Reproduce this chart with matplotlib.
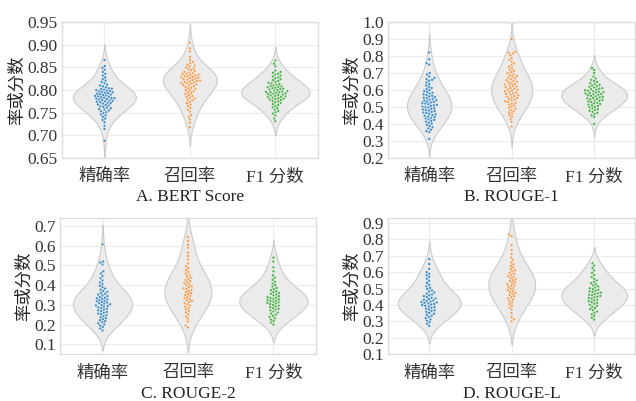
import numpy as np
import pandas as pd
import matplotlib
matplotlib.use("Agg")
import matplotlib.pyplot as plt
import seaborn as sns

sns.set_theme(style="whitegrid")
plt.rcParams['font.family'] = ['Liberation Serif', 'Noto Sans CJK SC']
plt.rcParams['axes.unicode_minus'] = False

categories = ["精确率", "召回率", "F1 分数"]
panel_titles = ["A. BERT Score", "B. ROUGE-1", "C. ROUGE-2", "D. ROUGE-L"]

bert_prec = [0.688, 0.714, 0.721, 0.729, 0.734, 0.737, 0.741, 0.744, 0.746, 0.749, 0.751, 0.753, 0.755, 0.757,
             0.758, 0.760, 0.761, 0.763, 0.764, 0.766, 0.767, 0.768, 0.770, 0.771, 0.772, 0.773, 0.774, 0.775,
             0.776, 0.777, 0.778, 0.779, 0.780, 0.781, 0.782, 0.782, 0.783, 0.784, 0.785, 0.786, 0.787, 0.788,
             0.789, 0.790, 0.791, 0.792, 0.793, 0.794, 0.795, 0.796, 0.797, 0.798, 0.799, 0.800, 0.801, 0.802,
             0.803, 0.804, 0.806, 0.808, 0.810, 0.812, 0.815, 0.818, 0.821, 0.824, 0.828, 0.832, 0.836, 0.840,
             0.845, 0.849, 0.853, 0.866]
bert_rec = [0.718, 0.728, 0.735, 0.741, 0.745, 0.752, 0.757, 0.761, 0.765, 0.768, 0.771, 0.774, 0.777, 0.779,
            0.781, 0.783, 0.785, 0.787, 0.789, 0.791, 0.793, 0.795, 0.797, 0.799, 0.800, 0.802, 0.804, 0.805,
            0.807, 0.808, 0.810, 0.811, 0.812, 0.814, 0.815, 0.816, 0.817, 0.818, 0.819, 0.820, 0.821, 0.822,
            0.823, 0.824, 0.825, 0.826, 0.827, 0.828, 0.829, 0.830, 0.831, 0.832, 0.833, 0.834, 0.835, 0.836,
            0.837, 0.839, 0.840, 0.842, 0.844, 0.846, 0.848, 0.850, 0.852, 0.854, 0.856, 0.859, 0.862, 0.866,
            0.873, 0.885, 0.892, 0.904]
bert_f1 = [0.731, 0.737, 0.744, 0.748, 0.751, 0.754, 0.757, 0.760, 0.762, 0.765, 0.767, 0.769, 0.771, 0.773,
           0.775, 0.776, 0.778, 0.779, 0.780, 0.781, 0.782, 0.783, 0.784, 0.785, 0.786, 0.787, 0.788, 0.789,
           0.790, 0.791, 0.792, 0.793, 0.794, 0.795, 0.795, 0.796, 0.797, 0.798, 0.799, 0.800, 0.801, 0.802,
           0.803, 0.804, 0.805, 0.806, 0.807, 0.808, 0.809, 0.810, 0.812, 0.813, 0.815, 0.816, 0.818, 0.820,
           0.822, 0.824, 0.826, 0.828, 0.830, 0.832, 0.834, 0.836, 0.838, 0.840, 0.843, 0.852, 0.858, 0.865]

r1_prec = [0.312, 0.352, 0.358, 0.366, 0.374, 0.381, 0.389, 0.395, 0.402, 0.408, 0.414, 0.419, 0.424, 0.428,
           0.433, 0.437, 0.441, 0.445, 0.449, 0.453, 0.457, 0.461, 0.465, 0.468, 0.472, 0.476, 0.479, 0.483,
           0.486, 0.490, 0.493, 0.497, 0.500, 0.503, 0.507, 0.510, 0.513, 0.517, 0.520, 0.523, 0.527, 0.530,
           0.533, 0.537, 0.540, 0.544, 0.547, 0.551, 0.555, 0.558, 0.562, 0.566, 0.570, 0.575, 0.579, 0.584,
           0.589, 0.594, 0.600, 0.606, 0.612, 0.619, 0.627, 0.636, 0.645, 0.655, 0.660, 0.664, 0.671, 0.680,
           0.692, 0.700, 0.750, 0.758, 0.781, 0.821]
r1_rec = [0.385, 0.412, 0.428, 0.443, 0.452, 0.461, 0.469, 0.476, 0.483, 0.490, 0.496, 0.502, 0.508, 0.513,
          0.519, 0.524, 0.529, 0.534, 0.539, 0.544, 0.548, 0.553, 0.557, 0.561, 0.565, 0.569, 0.573, 0.577,
          0.581, 0.585, 0.589, 0.593, 0.597, 0.600, 0.604, 0.608, 0.612, 0.616, 0.620, 0.624, 0.628, 0.632,
          0.636, 0.640, 0.645, 0.649, 0.654, 0.658, 0.663, 0.668, 0.673, 0.678, 0.683, 0.688, 0.694, 0.700,
          0.706, 0.713, 0.720, 0.728, 0.737, 0.746, 0.756, 0.767, 0.778, 0.790, 0.805, 0.815, 0.820, 0.825,
          0.900]
r1_f1 = [0.400, 0.442, 0.451, 0.459, 0.466, 0.472, 0.478, 0.483, 0.488, 0.493, 0.498, 0.502, 0.506, 0.510,
         0.514, 0.518, 0.522, 0.525, 0.529, 0.532, 0.536, 0.539, 0.542, 0.545, 0.548, 0.551, 0.554, 0.557,
         0.560, 0.563, 0.566, 0.569, 0.572, 0.575, 0.577, 0.580, 0.582, 0.585, 0.588, 0.590, 0.593, 0.596,
         0.599, 0.602, 0.605, 0.608, 0.611, 0.615, 0.619, 0.623, 0.627, 0.631, 0.636, 0.641, 0.647, 0.653,
         0.660, 0.668, 0.680, 0.700, 0.718, 0.730]

r2_prec = [0.170, 0.180, 0.188, 0.195, 0.201, 0.207, 0.212, 0.217, 0.222, 0.227, 0.232, 0.237, 0.242, 0.247,
           0.252, 0.256, 0.260, 0.264, 0.268, 0.272, 0.276, 0.280, 0.284, 0.287, 0.291, 0.294, 0.297, 0.300,
           0.303, 0.306, 0.309, 0.312, 0.315, 0.318, 0.321, 0.324, 0.327, 0.330, 0.333, 0.336, 0.340, 0.344,
           0.348, 0.352, 0.356, 0.361, 0.366, 0.371, 0.377, 0.383, 0.390, 0.397, 0.405, 0.414, 0.424, 0.435,
           0.447, 0.460, 0.470, 0.505, 0.515, 0.520, 0.607]
r2_rec = [0.185, 0.195, 0.215, 0.230, 0.242, 0.252, 0.261, 0.269, 0.277, 0.284, 0.291, 0.297, 0.303, 0.309,
          0.315, 0.320, 0.325, 0.330, 0.335, 0.340, 0.345, 0.350, 0.355, 0.360, 0.365, 0.370, 0.375, 0.380,
          0.384, 0.389, 0.394, 0.399, 0.404, 0.409, 0.414, 0.420, 0.426, 0.432, 0.438, 0.445, 0.452, 0.459,
          0.467, 0.476, 0.486, 0.496, 0.510, 0.530, 0.548, 0.565, 0.590, 0.605, 0.625, 0.645]
r2_f1 = [0.200, 0.210, 0.218, 0.225, 0.232, 0.238, 0.244, 0.250, 0.256, 0.261, 0.266, 0.271, 0.276, 0.280,
         0.284, 0.288, 0.292, 0.296, 0.300, 0.304, 0.307, 0.310, 0.313, 0.316, 0.319, 0.322, 0.325, 0.328,
         0.331, 0.334, 0.337, 0.340, 0.344, 0.348, 0.352, 0.356, 0.360, 0.364, 0.369, 0.374, 0.380, 0.386,
         0.393, 0.400, 0.408, 0.417, 0.427, 0.438, 0.450, 0.470, 0.490, 0.520, 0.540]

rl_prec = [0.272, 0.285, 0.295, 0.304, 0.312, 0.320, 0.327, 0.334, 0.340, 0.346, 0.352, 0.358, 0.363, 0.368,
           0.373, 0.378, 0.383, 0.387, 0.391, 0.395, 0.399, 0.403, 0.406, 0.409, 0.412, 0.415, 0.418, 0.421,
           0.424, 0.428, 0.432, 0.436, 0.440, 0.444, 0.449, 0.454, 0.459, 0.464, 0.470, 0.476, 0.482, 0.489,
           0.496, 0.504, 0.513, 0.523, 0.535, 0.548, 0.560, 0.572, 0.581, 0.590, 0.600, 0.620, 0.650, 0.680]
rl_rec = [0.300, 0.312, 0.325, 0.350, 0.372, 0.385, 0.396, 0.406, 0.415, 0.424, 0.432, 0.440, 0.447, 0.454,
          0.461, 0.468, 0.474, 0.480, 0.486, 0.492, 0.498, 0.504, 0.510, 0.516, 0.521, 0.527, 0.533, 0.539,
          0.545, 0.551, 0.557, 0.563, 0.569, 0.575, 0.582, 0.589, 0.596, 0.604, 0.612, 0.620, 0.629, 0.638,
          0.648, 0.660, 0.675, 0.690, 0.710, 0.735, 0.765, 0.820, 0.830]
rl_f1 = [0.310, 0.322, 0.333, 0.343, 0.352, 0.360, 0.368, 0.375, 0.382, 0.389, 0.395, 0.401, 0.407, 0.413,
         0.418, 0.423, 0.428, 0.433, 0.438, 0.443, 0.447, 0.451, 0.455, 0.459, 0.463, 0.467, 0.471, 0.475,
         0.479, 0.483, 0.487, 0.492, 0.497, 0.502, 0.507, 0.513, 0.519, 0.526, 0.533, 0.541, 0.550, 0.560,
         0.571, 0.583, 0.596, 0.610, 0.625, 0.640, 0.655]

panels = [
    [bert_prec, bert_rec, bert_f1],
    [r1_prec, r1_rec, r1_f1],
    [r2_prec, r2_rec, r2_f1],
    [rl_prec, rl_rec, rl_f1],
]
ylims = [(0.65, 0.95), (0.2, 1.0), (0.05, 0.74), (0.1, 0.93)]
yticks = [np.arange(0.65, 0.951, 0.05), np.arange(0.2, 1.01, 0.1),
          np.arange(0.1, 0.71, 0.1), np.arange(0.1, 0.91, 0.1)]
yfmt = ["%.2f", "%.1f", "%.1f", "%.1f"]
point_colors = ["#3f8bc4", "#f59a4a", "#4cb04c"]

# axes rectangles in figure fraction
rects = [[0.097, 0.606, 0.403, 0.339], [0.610, 0.606, 0.389, 0.339],
         [0.094, 0.117, 0.403, 0.339], [0.610, 0.117, 0.389, 0.339]]

fig = plt.figure(figsize=(6.36, 4.01), dpi=100)

for i in range(4):
    ax = fig.add_axes(rects[i])
    df = pd.DataFrame({
        "cat": np.concatenate([[c] * len(v) for c, v in zip(categories, panels[i])]),
        "val": np.concatenate(panels[i]),
    })
    sns.violinplot(data=df, x="cat", y="val", order=categories, inner=None, bw_adjust=1.25,
                   color="#ebebeb", linecolor="#cbcbcb", linewidth=0.8, ax=ax)
    sns.swarmplot(data=df, x="cat", y="val", order=categories, hue="cat",
                  palette=point_colors, size=1.9, edgecolor="white", linewidth=0.2,
                  legend=False, ax=ax)
    ax.set_ylim(*ylims[i])
    ax.set_yticks(yticks[i])
    ax.set_yticklabels([yfmt[i] % t for t in yticks[i]])
    ax.set_xlim(-0.5, 2.5)
    ax.set_xlabel(panel_titles[i], fontsize=12.5, labelpad=3, color="#222222")
    ax.set_ylabel("率或分数", fontsize=12.5, color="#222222", labelpad=1)
    ax.tick_params(axis="y", labelsize=12.5, colors="#333333", pad=3, length=0)
    ax.tick_params(axis="x", labelsize=12.5, colors="#333333", pad=8, length=0)
    ax.grid(True, color="#ececec", linewidth=0.8)
    ax.set_axisbelow(True)
    for s in ax.spines.values():
        s.set_color("#dcdcdc")
        s.set_linewidth(1.0)

fig.savefig("out.png", dpi=100)
